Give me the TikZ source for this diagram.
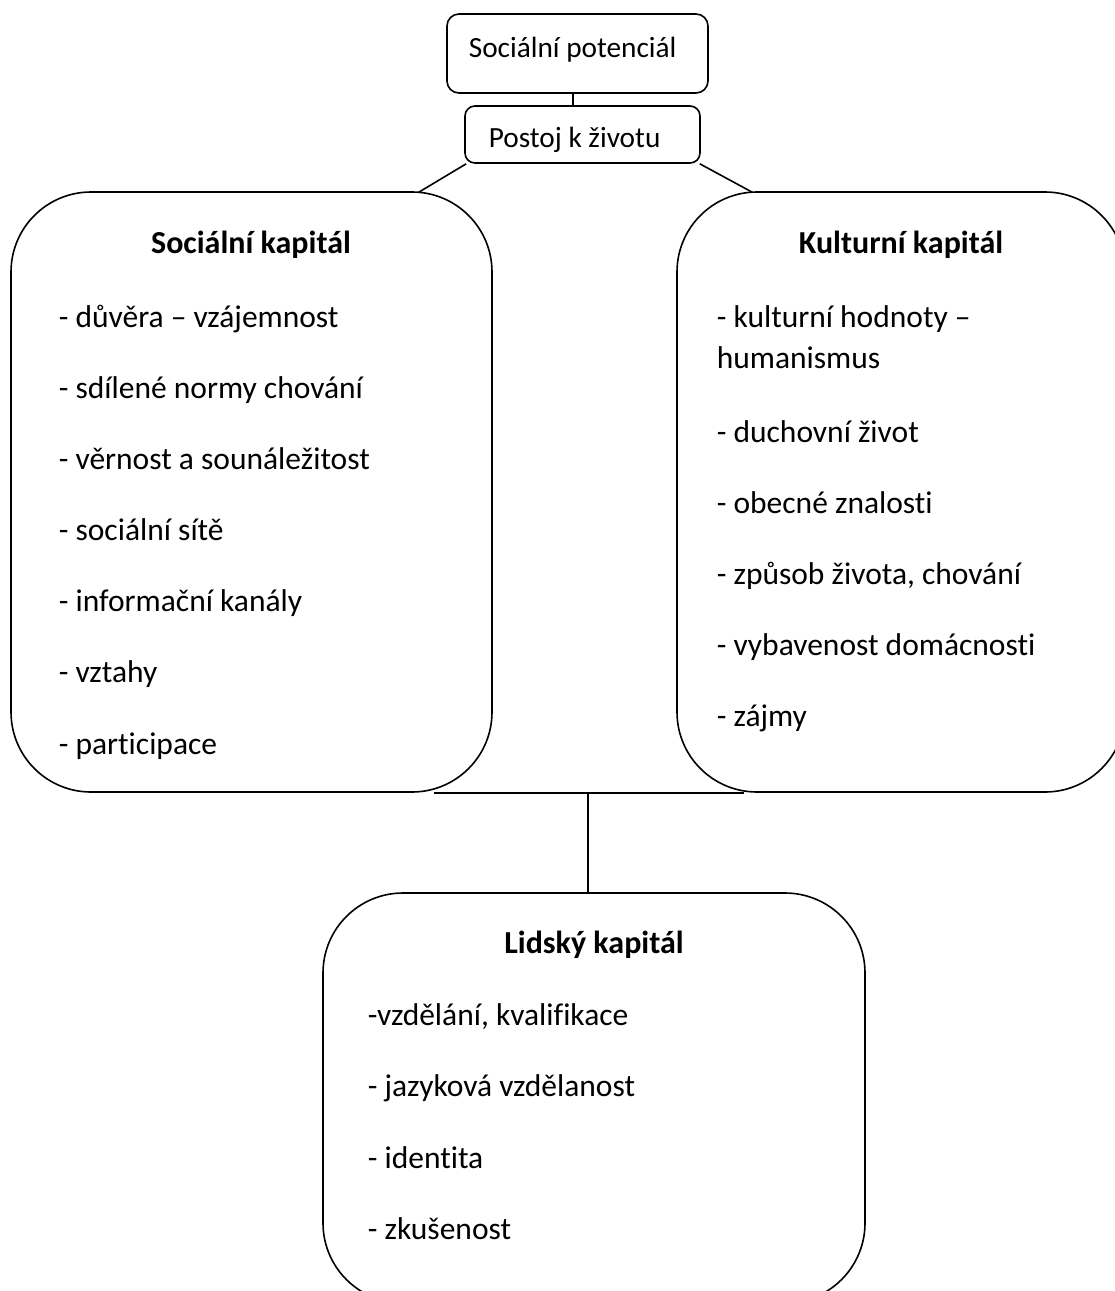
\documentclass[tikz,border=0pt]{standalone}
\usepackage{fontspec}
\setmainfont[Ligatures={NoCommon}]{Carlito}
\begin{document}
\begin{tikzpicture}[x=1pt,y=-1pt,
  line width=1.6pt,
  txt/.style={anchor=base west,inner sep=0pt,font=\fontsize{31.5}{38}\selectfont},
  toptxt/.style={anchor=base west,inner sep=0pt,font=\fontsize{29.3}{35}\selectfont},
  head/.style={anchor=base,inner sep=0pt,font=\fontsize{32}{38}\selectfont\bfseries},
  bigbox/.style={draw,rounded corners=80pt,inner sep=0pt},
  smallbox/.style={draw,rounded corners=12pt,inner sep=0pt}]
\clip (0,0) rectangle (1115,1291);
\fill[white] (0,0) rectangle (1115,1291);
% boxes
\node[smallbox,minimum width=261pt,minimum height=79pt] (tp) at (577.5,53.5) {};
\node[smallbox,rounded corners=10pt,minimum width=235pt,minimum height=57pt] (pk) at (582.5,134.5) {};
\node[bigbox,minimum width=481pt,minimum height=600pt] (sk) at (251.5,492) {};
\node[bigbox,minimum width=448pt,minimum height=600pt] (kk) at (901,492) {};
\node[bigbox,minimum width=542pt,minimum height=410pt] (lk) at (594,1098) {};
% connectors
\draw ([xshift=-4.5pt]tp.south) -- ([xshift=-4.5pt]tp.south |- pk.north);
\draw ([xshift=2pt]pk.south west) -- ([xshift=-74pt,yshift=-1pt]sk.north east);
\draw ([xshift=-1pt]pk.south east) -- ([xshift=76pt,yshift=-1pt]kk.north west);
\draw ([xshift=-59pt]sk.south east) -- ([xshift=68pt]kk.south west);
\coordinate (j) at (588,792);
\draw (j) -- (j |- lk.north);
% texts
\node[toptxt] (t1) at (468,57) {Sociální potenciál};
\node[toptxt] (t2) at (488,147) {Postoj k životu};
\node[head] (h1) at (251,253) {Sociální kapitál};
\node[txt] (s1) at (58,327) {- důvěra – vzájemnost};
\node[txt] (s2) at (58,398) {- sdílené normy chování};
\node[txt] (s3) at (58,469) {- věrnost a sounáležitost};
\node[txt] (s4) at (58,540) {- sociální sítě};
\node[txt] (s5) at (58,611) {- informační kanály};
\node[txt] (s6) at (58,682) {- vztahy};
\node[txt] (s7) at (58,754) {- participace};
\node[head] (h2) at (901,253) {Kulturní kapitál};
\node[txt] (k1) at (716,327) {- kulturní hodnoty –};
\node[txt] (k1b) at (716,368) {humanismus};
\node[txt] (k2) at (716,442) {- duchovní život};
\node[txt] (k3) at (716,513) {- obecné znalosti};
\node[txt] (k4) at (716,584) {- způsob života, chování};
\node[txt] (k5) at (716,655) {- vybavenost domácnosti};
\node[txt] (k6) at (716,726) {- zájmy};
\node[head] (h3) at (594,953) {Lidský kapitál};
\node[txt] (l1) at (367,1025) {-vzdělání, kvalifikace};
\node[txt] (l2) at (367,1096) {- jazyková vzdělanost};
\node[txt] (l3) at (367,1168) {- identita};
\node[txt] (l4) at (367,1239) {- zkušenost};
\end{tikzpicture}
\end{document}
